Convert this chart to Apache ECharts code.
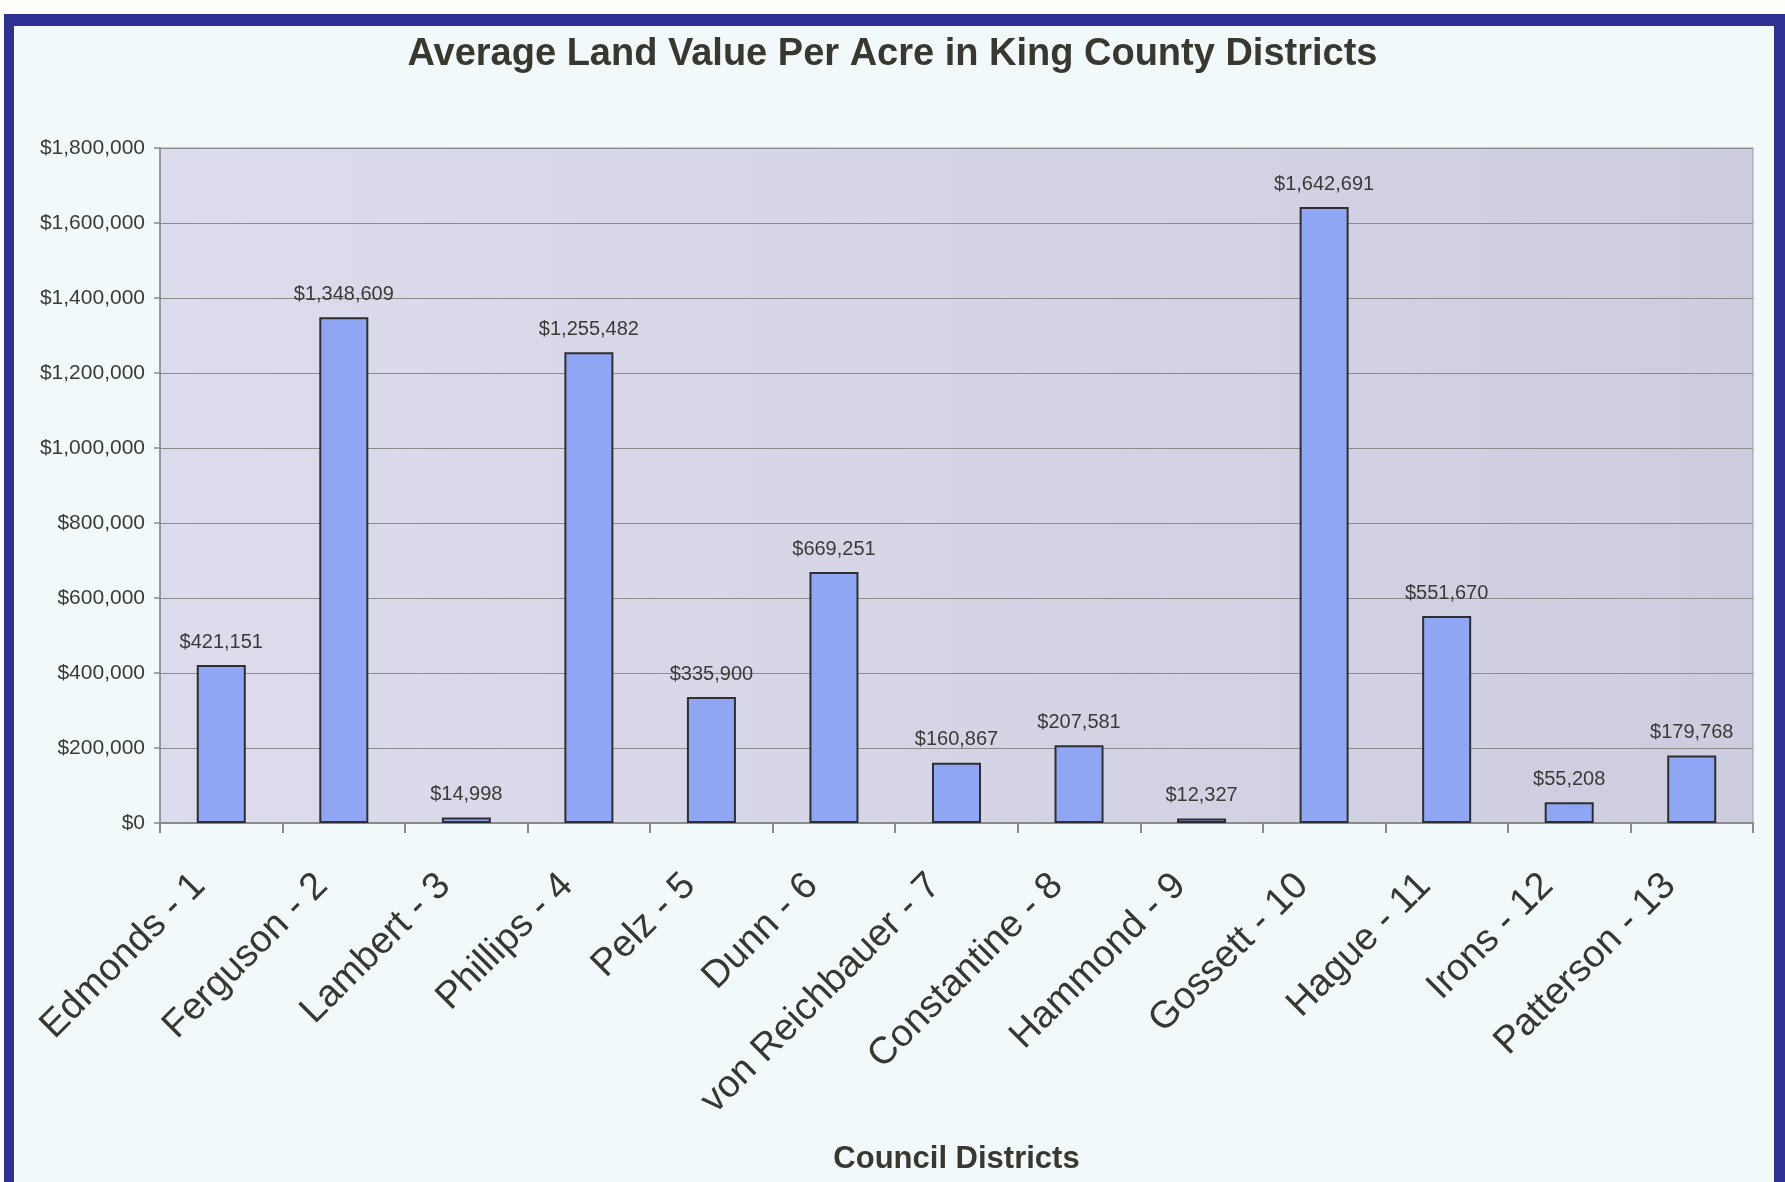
<!DOCTYPE html>
<html>
<head>
<meta charset="utf-8">
<script src="https://cdn.jsdelivr.net/npm/echarts@6/dist/echarts.min.js"></script>
<style>
  html, body { margin: 0; padding: 0; background: #ffffff; }
  #chart { width: 1785px; height: 1182px; }
</style>
</head>
<body>
<div id="chart"></div>
<script>
const categories = [
  'Edmonds - 1', 'Ferguson - 2', 'Lambert - 3', 'Phillips - 4', 'Pelz - 5',
  'Dunn - 6', 'von Reichbauer - 7', 'Constantine - 8', 'Hammond - 9',
  'Gossett - 10', 'Hague - 11', 'Irons - 12', 'Patterson - 13'
];
const landValuePerAcre = [
  421151, 1348609, 14998, 1255482, 335900,
  669251, 160867, 207581, 12327,
  1642691, 551670, 55208, 179768
];
const yAxisMin = 0;
const yAxisMax = 1800000;
const yAxisStep = 200000;

const fmtMoney = v => '$' + Math.round(v).toLocaleString('en-US');
const FONT = "'Liberation Sans', Arial, Helvetica, sans-serif";

const chart = echarts.init(document.getElementById('chart'), null, { renderer: 'canvas' });

chart.setOption({
  animation: false,
  backgroundColor: '#ffffff',
  graphic: [
    { type: 'rect', z: -10, silent: true, shape: { x: 4, y: 14, width: 1781, height: 1200 }, style: { fill: '#2e3192' } },
    { type: 'rect', z: -9, silent: true, shape: { x: 14, y: 26, width: 1760, height: 1200 }, style: { fill: '#f2f9fb' } }
  ],
  title: {
    text: 'Average Land Value Per Acre in King County Districts',
    left: 'center',
    top: 31,
    padding: [5, 12, 5, 0],
    textStyle: { fontFamily: FONT, fontSize: 38, fontWeight: 'bold', color: '#38382f' }
  },
  grid: {
    left: 160, right: 32, top: 148, bottom: 359,
    show: true,
    borderColor: '#9a9aa6',
    borderWidth: 1,
    backgroundColor: {
      type: 'linear', x: 0, y: 0, x2: 1, y2: 0,
      colorStops: [{ offset: 0, color: '#dcdcec' }, { offset: 1, color: '#cdcddf' }]
    }
  },
  xAxis: {
    type: 'category',
    data: categories,
    name: 'Council Districts',
    nameLocation: 'middle',
    nameGap: 321,
    nameTextStyle: { fontFamily: FONT, fontSize: 31, fontWeight: 'bold', color: '#38382f' },
    axisLine: { lineStyle: { color: '#8a8a8a', width: 2 } },
    axisTick: { show: true, alignWithLabel: false, length: 10, lineStyle: { color: '#8a8a8a', width: 2 } },
    axisLabel: {
      interval: 0,
      rotate: 45,
      margin: 35,
      padding: [0, 31, 0, 0],
      fontFamily: FONT,
      fontSize: 38,
      color: '#38382f'
    }
  },
  yAxis: {
    type: 'value',
    min: yAxisMin,
    max: yAxisMax,
    interval: yAxisStep,
    axisLine: { show: true, lineStyle: { color: '#8a8a8a', width: 1.5 } },
    axisTick: { show: true, length: 6, lineStyle: { color: '#8a8a8a', width: 1.5 } },
    axisLabel: {
      margin: 15,
      fontFamily: FONT,
      fontSize: 21,
      color: '#3b3b36',
      formatter: v => fmtMoney(v)
    },
    splitLine: { show: true, lineStyle: { color: '#8c8c8c', width: 1.2 } }
  },
  series: [{
    type: 'bar',
    data: landValuePerAcre,
    barWidth: '40%',
    itemStyle: { color: '#8ea6f3', borderColor: '#2f2f2f', borderWidth: 2 },
    label: {
      show: true,
      position: 'top',
      distance: 13,
      fontFamily: FONT,
      fontSize: 20,
      color: '#3b3b36',
      formatter: p => fmtMoney(p.value)
    }
  }]
});
</script>
</body>
</html>
